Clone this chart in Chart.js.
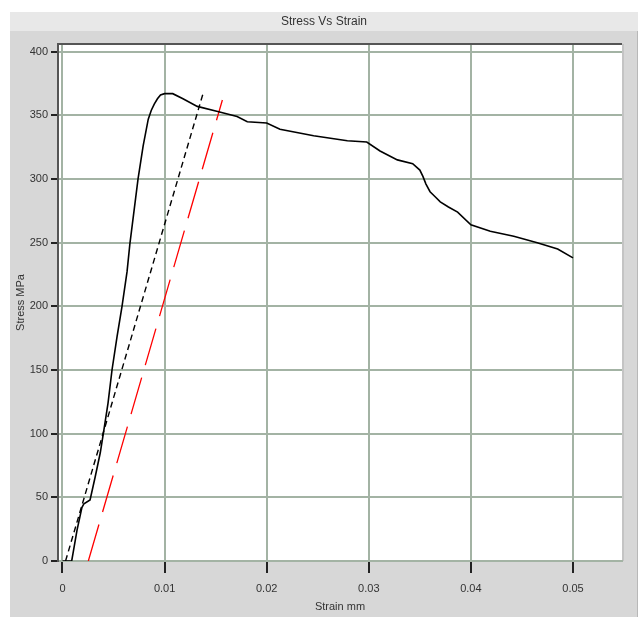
<!DOCTYPE html>
<html>
<head>
<meta charset="utf-8">
<script src="https://cdn.jsdelivr.net/npm/chart.js@4/dist/chart.umd.min.js"></script>
<style>
  html, body { margin: 0; padding: 0; background: #fff; }
  canvas { display: block; }
</style>
</head>
<body>
<canvas id="chart" width="640" height="617"></canvas>
<script>
// measured stress-strain curve
const strainTest = [0, 0.0009, 0.00103, 0.00142, 0.0019, 0.0021, 0.0027, 0.0032, 0.0037, 0.0040,
  0.00446, 0.00485, 0.00534, 0.00583, 0.00632, 0.0066, 0.0074, 0.0079, 0.0084, 0.0087,
  0.0090, 0.0093, 0.0096, 0.0100, 0.0108, 0.0118, 0.0132, 0.0152, 0.0171, 0.0181,
  0.0200, 0.0213, 0.0246, 0.0279, 0.0298, 0.0311, 0.0328, 0.0343, 0.0350, 0.0353,
  0.0356, 0.0360, 0.0365, 0.0370, 0.0378, 0.0387, 0.0400, 0.0419, 0.0442, 0.0465,
  0.0485, 0.0500];
const stressTest = [0, 0, 6, 24, 42, 45, 48, 66, 85, 100,
  124, 150, 176, 200, 227, 249, 300, 326, 347, 354,
  359, 363, 366, 367, 367, 363, 357, 353, 349, 345,
  344, 339, 334, 330, 329, 322, 315, 312, 307, 302,
  296, 290, 286, 282, 278, 274, 264, 259, 255, 250,
  245, 238];

// modulus line and offset line
const strainModulus = [0.0003, 0.0138];
const stressModulus = [0, 368];
const strainOffset = [0.00253, 0.01566];
const stressOffset = [0, 362];

const xTicks = [0, 0.01, 0.02, 0.03, 0.04, 0.05];
const yTicks = [0, 50, 100, 150, 200, 250, 300, 350, 400];

const toPoints = (xs, ys) => xs.map((x, i) => ({ x: x, y: ys[i] }));

const gridColor = '#a3b3a4';
const labelFont = { family: 'Liberation Sans, Arial, sans-serif', size: 11 };

// grey window panel, plot background and the frame
const panelPlugin = {
  id: 'panel',
  beforeDraw(chart) {
    const ctx = chart.ctx;
    const area = chart.chartArea;
    ctx.save();
    ctx.fillStyle = '#ffffff';
    ctx.fillRect(0, 0, chart.width, chart.height);
    ctx.fillStyle = '#d7d7d7';
    ctx.fillRect(10, 12, 628, chart.height - 12);
    ctx.fillStyle = '#e8e8e8';
    ctx.fillRect(10, 12, 628, 19);
    ctx.fillStyle = '#b8b8b8';
    ctx.fillRect(637, 31, 1, chart.height - 31);
    ctx.fillStyle = '#ffffff';
    ctx.fillRect(area.left, area.top, area.right - area.left, area.bottom - area.top);
    ctx.fillStyle = '#c4c4c4';
    ctx.fillRect(area.right, area.top, 2, area.bottom - area.top);

    ctx.fillStyle = '#333333';
    ctx.font = '12px "Liberation Sans", Arial, sans-serif';
    ctx.textAlign = 'center';
    ctx.textBaseline = 'middle';
    ctx.fillText('Stress Vs Strain', 324, 22);
    ctx.restore();
  },
  afterDraw(chart) {
    const ctx = chart.ctx;
    const area = chart.chartArea;
    ctx.save();
    ctx.strokeStyle = '#555555';
    ctx.lineWidth = 2;
    ctx.beginPath();
    ctx.moveTo(area.left, area.top);
    ctx.lineTo(area.right, area.top);
    ctx.stroke();
    ctx.restore();
  }
};

new Chart(document.getElementById('chart'), {
  type: 'line',
  data: {
    datasets: [
      {
        data: toPoints(strainTest, stressTest),
        borderColor: '#000000',
        borderWidth: 1.6,
        pointRadius: 0,
        tension: 0
      },
      {
        data: toPoints(strainModulus, stressModulus),
        borderColor: '#000000',
        borderWidth: 1.4,
        borderDash: [6, 4],
        pointRadius: 0
      },
      {
        data: toPoints(strainOffset, stressOffset),
        borderColor: '#ff0000',
        borderWidth: 1.3,
        borderDash: [38, 13],
        pointRadius: 0
      }
    ]
  },
  options: {
    responsive: false,
    animation: false,
    layout: { padding: { left: 10, right: 18, top: 44, bottom: 0 } },
    plugins: {
      legend: { display: false },
      tooltip: { enabled: false },
      title: { display: false }
    },
    scales: {
      x: {
        type: 'linear',
        min: -0.00044,
        max: 0.0548,
        afterBuildTicks: (scale) => { scale.ticks = xTicks.map(v => ({ value: v })); },
        afterFit: (scale) => { scale.height = 56; },
        ticks: {
          color: '#333333',
          font: labelFont,
          padding: 9,
          maxRotation: 0,
          callback: (v) => String(v)
        },
        grid: {
          color: gridColor,
          lineWidth: 2,
          tickColor: '#222222',
          tickWidth: 2,
          tickLength: 12
        },
        border: { color: gridColor, width: 2 },
        title: {
          display: true,
          text: 'Strain mm',
          color: '#333333',
          font: labelFont,
          padding: { top: 0, bottom: 3 }
        }
      },
      y: {
        min: 0,
        max: 406,
        afterBuildTicks: (scale) => { scale.ticks = yTicks.map(v => ({ value: v })); },
        afterFit: (scale) => { scale.width = 48; },
        ticks: {
          color: '#333333',
          font: labelFont,
          padding: 3,
          callback: (v) => String(v)
        },
        grid: {
          color: gridColor,
          lineWidth: 2,
          tickColor: '#222222',
          tickWidth: 2,
          tickLength: 7
        },
        border: { color: '#555555', width: 2 },
        title: {
          display: true,
          text: 'Stress MPa',
          color: '#333333',
          font: labelFont,
          padding: { top: 4, bottom: 0 }
        }
      }
    }
  },
  plugins: [panelPlugin]
});
</script>
</body>
</html>
